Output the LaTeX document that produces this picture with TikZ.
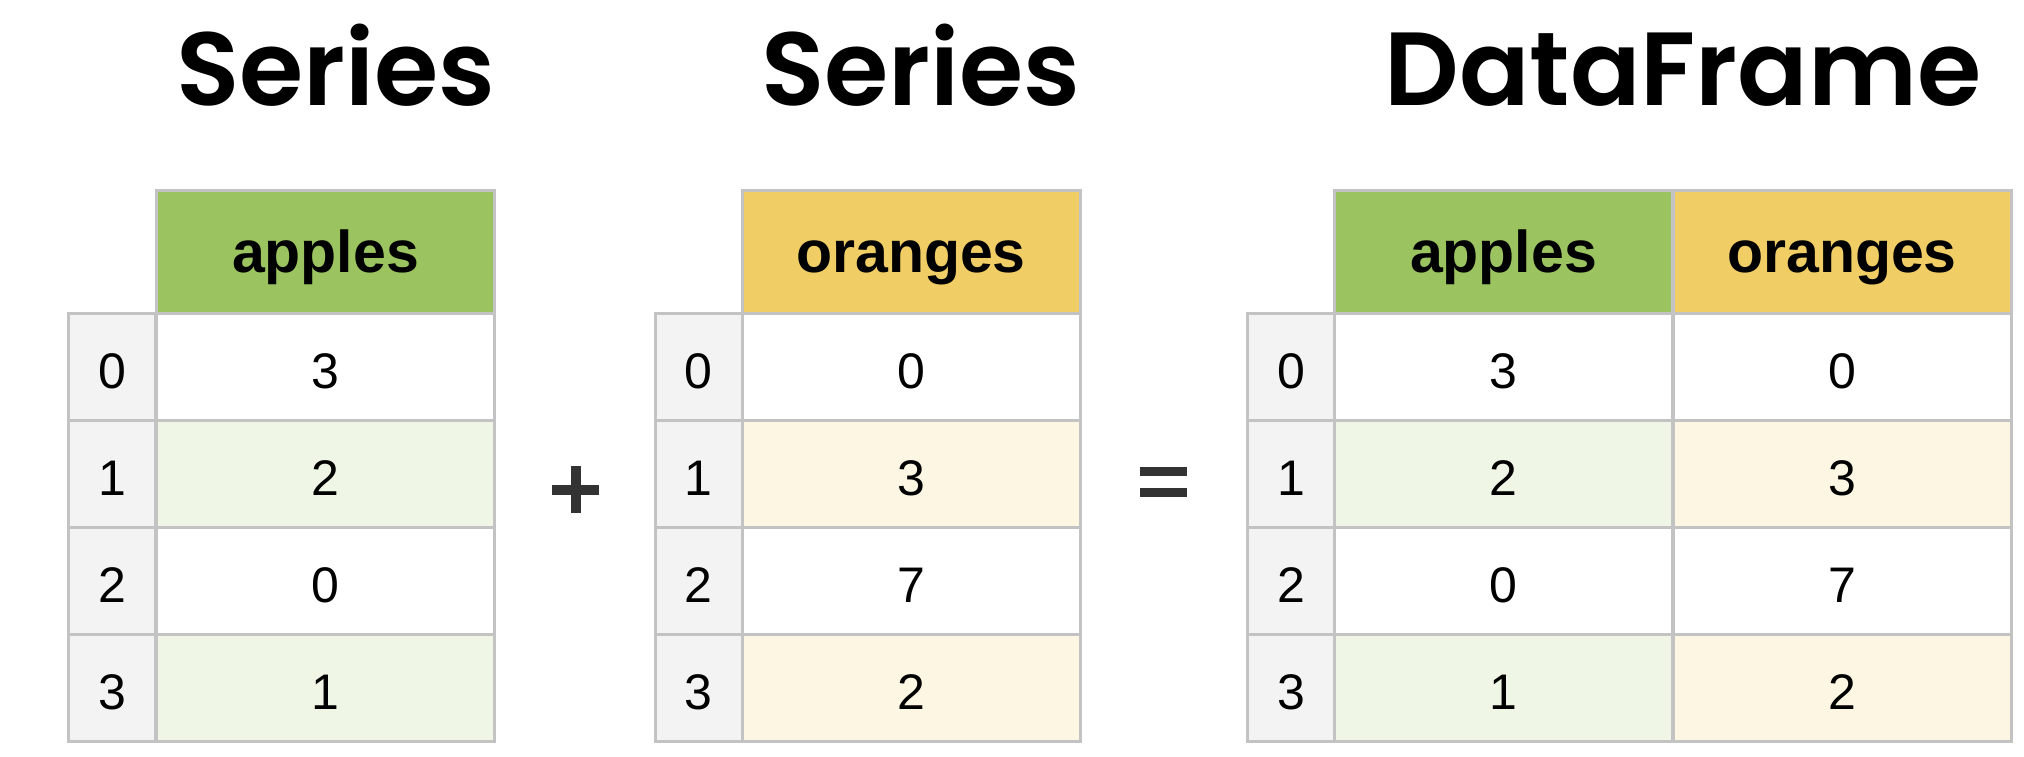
\documentclass[tikz,border=0pt]{standalone}
\usepackage{fontspec}
\setmainfont{Liberation Sans}
\newfontfamily\titlefont{Poppins}[BoldFont={Poppins SemiBold}]
\usetikzlibrary{positioning}

\definecolor{applegreen}{HTML}{9BC35F}
\definecolor{orangegold}{HTML}{F0CD65}
\definecolor{lightgreen}{HTML}{EFF6E5}
\definecolor{lightyellow}{HTML}{FDF6E3}
\definecolor{idxgray}{HTML}{F3F3F3}
\definecolor{gridgray}{HTML}{C3C3C3}
\definecolor{signgray}{HTML}{333333}

\tikzset{
    cell/.style={draw=gridgray, line width=3pt, rectangle, inner sep=0pt, minimum height=107pt, text height=43pt, text depth=0pt},
    idxcell/.style={cell, fill=idxgray, minimum width=87pt, font=\fontsize{50}{60}\selectfont},
    valcell/.style={cell, minimum width=338pt, font=\fontsize{50}{60}\selectfont},
    headcell/.style={cell, minimum width=338pt, minimum height=123pt, text height=44pt, text depth=3pt, font=\fontsize{59}{70}\selectfont\bfseries},
    title/.style={anchor=base, inner sep=0pt, font={\titlefont\fontsize{104}{120}\selectfont\bfseries}}
}

\begin{document}
\begin{tikzpicture}[x=1pt,y=-1pt]
    \useasboundingbox[fill=white] (0,0) rectangle (2024,756);

    % titles
    \node[title] (t1) at (336,105) {Series};
    \node[title] (t2) at (921,105) {Series};
    \node[title] (t3) at (1683,105) {DataFrame};

    % first series
    \node[headcell, fill=applegreen] (h1) at (325.5,251.5) {apples};
    \foreach \v/\f [count=\r from 0] in {3/white,2/lightgreen,0/white,1/lightgreen} {
        \node[idxcell] (i1-\r) at (112,366.5+107*\r) {\r};
        \node[valcell, fill=\f] (a1-\r) at (325.5,366.5+107*\r) {\v};
    }

    % second series
    \node[headcell, fill=orangegold] (h2) at (911,251.5) {oranges};
    \foreach \v/\f [count=\r from 0] in {0/white,3/lightyellow,7/white,2/lightyellow} {
        \node[idxcell] (i2-\r) at (698.5,366.5+107*\r) {\r};
        \node[valcell, fill=\f] (o2-\r) at (911,366.5+107*\r) {\v};
    }

    % dataframe
    \node[headcell, fill=applegreen] (h3a) at (1503.5,251.5) {apples};
    \node[headcell, fill=orangegold] (h3o) at (1842,251.5) {oranges};
    \foreach \a/\o/\f/\g [count=\r from 0] in {3/0/white/white,2/3/lightgreen/lightyellow,0/7/white/white,1/2/lightgreen/lightyellow} {
        \node[idxcell] (i3-\r) at (1291,366.5+107*\r) {\r};
        \node[valcell, fill=\f] (a3-\r) at (1503.5,366.5+107*\r) {\a};
        \node[valcell, fill=\g] (o3-\r) at (1842,366.5+107*\r) {\o};
    }

    % plus and equals
    \fill[signgray] (552,485) rectangle (599,495);
    \fill[signgray] (571,466) rectangle (581,513);
    \fill[signgray] (1140,467) rectangle (1187,476);
    \fill[signgray] (1140,488) rectangle (1187,497);
\end{tikzpicture}
\end{document}
